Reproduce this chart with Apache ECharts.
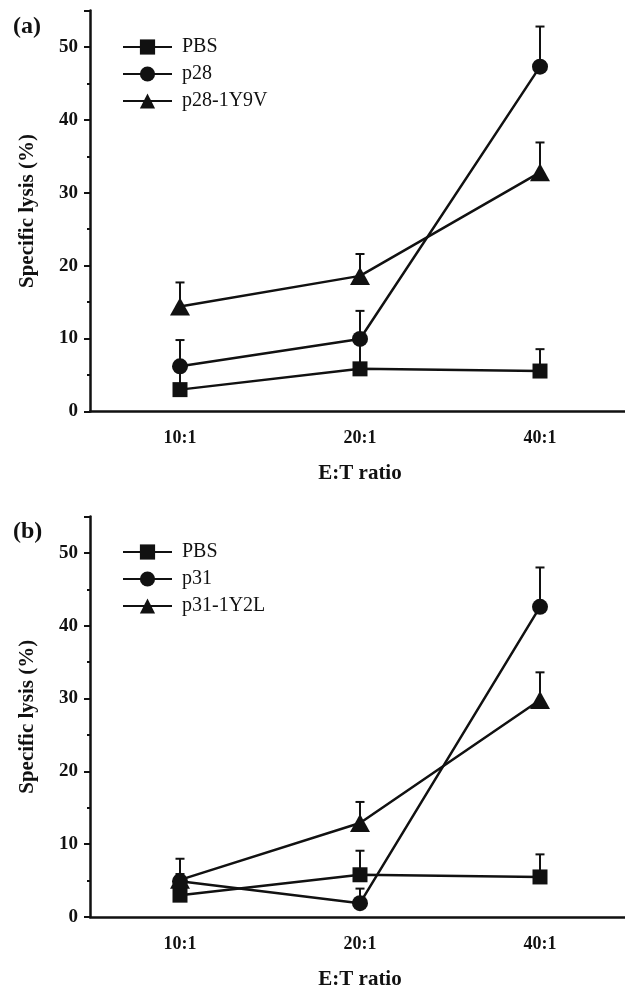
<!DOCTYPE html>
<html>
<head>
<meta charset="utf-8">
<script src="https://cdn.jsdelivr.net/npm/echarts@6/dist/echarts.min.js"></script>
<style>
  html, body { margin: 0; padding: 0; background: #fff; }
  #main { width: 625px; height: 990px; }
</style>
</head>
<body>
<div id="main"></div>
<script>
// E:T ratios on the x axis
var ratios = ['10:1', '20:1', '40:1'];

// panel (a)
var pbsA = [3.0, 5.85, 5.55];
var pbsErrA = [3.0, 3.6, 3.0];
var p28A = [6.2, 9.95, 47.3];
var p28ErrA = [3.6, 3.85, 5.5];
var p28vA = [14.4, 18.6, 32.8];
var p28vErrA = [3.3, 3.0, 4.1];

// panel (b)
var pbsB = [3.0, 5.8, 5.5];
var pbsErrB = [1.5, 3.3, 3.1];
var p31B = [4.9, 1.9, 42.6];
var p31ErrB = [1.0, 2.0, 5.4];
var p31vB = [5.1, 12.9, 29.8];
var p31vErrB = [2.9, 2.9, 3.8];

var yTicks = [0, 10, 20, 30, 40, 50];

var ink = '#111';
var serif = '"Liberation Serif", "DejaVu Serif", serif';

var myChart = echarts.init(document.getElementById('main'));

function gridRect(top, height) {
    return { left: 90, top: top, width: 540, height: height, containLabel: false, outerBoundsMode: 'none' };
}

function mainX(gi) {
    return {
        gridIndex: gi, type: 'category', data: ratios, boundaryGap: true,
        axisLine: { lineStyle: { color: ink, width: 2.5 } },
        axisTick: { alignWithLabel: true, length: 6, lineStyle: { color: ink, width: 2 } },
        axisLabel: { color: ink, fontFamily: serif, fontWeight: 'bold', fontSize: 18, margin: 18 },
        splitLine: { show: false },
        name: 'E:T ratio', nameLocation: 'middle', nameGap: 52,
        nameTextStyle: { color: ink, fontFamily: serif, fontWeight: 'bold', fontSize: 21 }
    };
}
function minorX(gi) {
    return {
        gridIndex: gi, type: 'category', data: ratios, boundaryGap: true,
        axisLine: { show: false },
        axisTick: { length: 3, lineStyle: { color: ink, width: 2 } },
        axisLabel: { show: false }, splitLine: { show: false }
    };
}
function mainY(gi) {
    return {
        gridIndex: gi, type: 'value', min: 0, max: 55, interval: 10,
        axisLine: { show: true, lineStyle: { color: ink, width: 2.5 } },
        axisTick: { show: true, length: 6, lineStyle: { color: ink, width: 2 } },
        minorTick: { show: true, splitNumber: 2, length: 3, lineStyle: { color: ink, width: 2 } },
        axisLabel: {
            color: ink, fontFamily: serif, fontWeight: 'bold', fontSize: 19, margin: 12,
            formatter: function (v) { return yTicks.indexOf(v) >= 0 ? String(v) : ''; }
        },
        splitLine: { show: false },
        name: 'Specific lysis (%)', nameLocation: 'middle', nameGap: 52,
        nameTextStyle: { color: ink, fontFamily: serif, fontWeight: 'bold', fontSize: 21 }
    };
}
function hiddenY(gi) {
    return { gridIndex: gi, type: 'value', min: 0, max: 55, show: false };
}

function lineSeries(name, data, symbol, size, axis) {
    return {
        name: name, type: 'line', data: data, xAxisIndex: axis, yAxisIndex: axis,
        symbol: symbol, symbolSize: size, showSymbol: true, z: 3,
        itemStyle: { color: ink },
        lineStyle: { color: ink, width: 2.5 }
    };
}
function errSeries(vals, errs, axis) {
    var d = [];
    for (var i = 0; i < vals.length; i++) {
        d.push([i, vals[i], errs[i]]);
    }
    return {
        type: 'custom', xAxisIndex: axis, yAxisIndex: axis, z: 2, silent: true,
        data: d,
        renderItem: function (params, api) {
            var p0 = api.coord([api.value(0), api.value(1)]);
            var p1 = api.coord([api.value(0), api.value(1) + api.value(2)]);
            var st = { stroke: ink, lineWidth: 2 };
            return {
                type: 'group',
                children: [
                    { type: 'line', shape: { x1: p0[0], y1: p0[1], x2: p1[0], y2: p1[1] }, style: st },
                    { type: 'line', shape: { x1: p1[0] - 4.5, y1: p1[1], x2: p1[0] + 4.5, y2: p1[1] }, style: st }
                ]
            };
        }
    };
}

function legendAt(top, names) {
    return {
        data: names, orient: 'vertical', left: 117, top: top,
        itemWidth: 49, itemHeight: 19, itemGap: 7, selectedMode: false,
        textStyle: { color: ink, fontFamily: serif, fontSize: 20, padding: [0, 0, 0, 5] }
    };
}

option = {
    animation: false,
    backgroundColor: '#fff',
    title: [
        { text: '(a)', left: 8, top: 10, textStyle: { color: ink, fontFamily: serif, fontWeight: 'bold', fontSize: 24 } },
        { text: '(b)', left: 8, top: 515, textStyle: { color: ink, fontFamily: serif, fontWeight: 'bold', fontSize: 24 } }
    ],
    legend: [
        legendAt(32, ['PBS', 'p28', 'p28-1Y9V']),
        legendAt(537, ['PBS', 'p31', 'p31-1Y2L'])
    ],
    grid: [gridRect(10.5, 401), gridRect(10.5, 401), gridRect(516.5, 400.5), gridRect(516.5, 400.5)],
    xAxis: [mainX(0), minorX(1), mainX(2), minorX(3)],
    yAxis: [mainY(0), hiddenY(1), mainY(2), hiddenY(3)],
    series: [
        errSeries(pbsA, pbsErrA, 0),
        errSeries(p28A, p28ErrA, 0),
        errSeries(p28vA, p28vErrA, 0),
        lineSeries('PBS', pbsA, 'rect', 15, 0),
        lineSeries('p28', p28A, 'circle', 16, 0),
        lineSeries('p28-1Y9V', p28vA, 'triangle', [20, 18], 0),
        errSeries(pbsB, pbsErrB, 2),
        errSeries(p31B, p31ErrB, 2),
        errSeries(p31vB, p31vErrB, 2),
        lineSeries('PBS', pbsB, 'rect', 15, 2),
        lineSeries('p31', p31B, 'circle', 16, 2),
        lineSeries('p31-1Y2L', p31vB, 'triangle', [20, 18], 2)
    ]
};

myChart.setOption(option);
</script>
</body>
</html>
